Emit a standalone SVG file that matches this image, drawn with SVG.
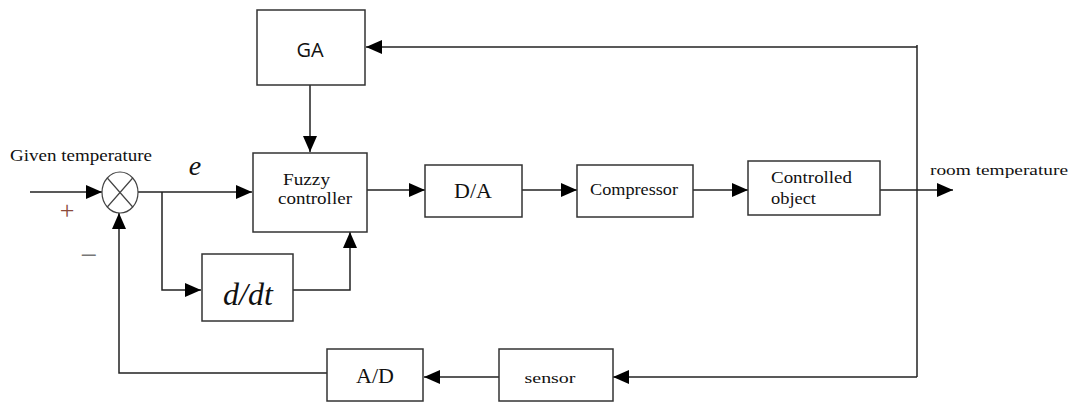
<svg xmlns="http://www.w3.org/2000/svg" width="1073" height="403" viewBox="0 0 1073 403">
<defs>
<marker id="arr" markerWidth="16" markerHeight="14" refX="16" refY="7" orient="auto" markerUnits="userSpaceOnUse">
<path d="M0,0 L16,7 L0,14 Z" fill="#000"/>
</marker>
<style>
.box{fill:#fff;stroke:#333;stroke-width:1.5}
.ln{fill:none;stroke:#222;stroke-width:1.5}
.ser{font-family:"Liberation Serif","DejaVu Serif","Times New Roman",serif;fill:#111}
.sans{font-family:"Open Sans","Liberation Sans",sans-serif;fill:#111}
</style>
</defs>
<rect width="1073" height="403" fill="#fff"/>
<g id="connectors">
<path class="ln" d="M30,192 H102" marker-end="url(#arr)"/>
<path class="ln" d="M138,192 H252" marker-end="url(#arr)"/>
<path class="ln" d="M162,192 V290 H201" marker-end="url(#arr)"/>
<path class="ln" d="M293,290 H350 V232" marker-end="url(#arr)"/>
<path class="ln" d="M310,85 V152" marker-end="url(#arr)"/>
<path class="ln" d="M367,190 H425" marker-end="url(#arr)"/>
<path class="ln" d="M522,190 H577" marker-end="url(#arr)"/>
<path class="ln" d="M693,190 H748" marker-end="url(#arr)"/>
<path class="ln" d="M880,190 H953" marker-end="url(#arr)"/>
<path class="ln" d="M917,45 V377"/>
<path class="ln" d="M917,47 H366" marker-end="url(#arr)"/>
<path class="ln" d="M917,377 H613" marker-end="url(#arr)"/>
<path class="ln" d="M499,377 H424" marker-end="url(#arr)"/>
<path class="ln" d="M327,373 H119 V213" marker-end="url(#arr)"/>
</g>
<g id="sum">
<ellipse cx="120" cy="192.5" rx="18" ry="20.5" fill="#fff" stroke="#444" stroke-width="1.2"/>
<path d="M107.3,178 L132.7,207 M132.7,178 L107.3,207" stroke="#444" stroke-width="1.2"/>
</g>
<g id="labels">
<text class="ser" x="10" y="161" font-size="16" textLength="142" lengthAdjust="spacingAndGlyphs">Given temperature</text>
<text class="ser" x="67" y="219" font-size="26" fill="#8b4a3a" style="fill:#8b4a3a" text-anchor="middle">+</text>
<text class="ser" x="89" y="265" font-size="30" style="fill:#777" text-anchor="middle">−</text>
<text class="ser" x="195" y="175" font-size="28" font-style="italic" text-anchor="middle">e</text>
<text class="ser" x="930" y="175" font-size="15.5" textLength="138" lengthAdjust="spacingAndGlyphs">room temperature</text>
</g>
<g id="ga">
<rect class="box" x="257" y="10" width="108" height="75"/>
<text class="sans" x="310" y="57" font-size="20" text-anchor="middle">GA</text>
</g>
<g id="fuzzy">
<rect class="box" x="253" y="153" width="114" height="79"/>
<text class="ser" x="283" y="185" font-size="17" textLength="47" lengthAdjust="spacingAndGlyphs">Fuzzy</text>
<text class="ser" x="278" y="204" font-size="17" textLength="74" lengthAdjust="spacingAndGlyphs">controller</text>
</g>
<g id="ddt">
<rect class="box" x="202" y="254" width="91" height="67"/>
<text class="ser" x="248" y="305" font-size="32" font-style="italic" text-anchor="middle">d/dt</text>
</g>
<g id="da">
<rect class="box" x="425" y="165" width="97" height="52"/>
<text class="ser" x="473" y="198" font-size="22" text-anchor="middle">D/A</text>
</g>
<g id="compressor">
<rect class="box" x="577" y="165" width="116" height="52"/>
<text class="ser" x="634" y="195" font-size="17" text-anchor="middle" textLength="88" lengthAdjust="spacingAndGlyphs">Compressor</text>
</g>
<g id="controlled">
<rect class="box" x="748" y="161" width="132" height="54"/>
<text class="ser" x="771" y="183" font-size="17" textLength="81" lengthAdjust="spacingAndGlyphs">Controlled</text>
<text class="ser" x="771" y="204" font-size="17" textLength="45" lengthAdjust="spacingAndGlyphs">object</text>
</g>
<g id="sensor">
<rect class="box" x="499" y="349" width="114" height="52"/>
<text class="ser" x="550" y="383" font-size="15" text-anchor="middle" textLength="51" lengthAdjust="spacingAndGlyphs">sensor</text>
</g>
<g id="ad">
<rect class="box" x="327" y="349" width="96" height="52"/>
<text class="ser" x="375" y="383" font-size="22" text-anchor="middle">A/D</text>
</g>
</svg>
